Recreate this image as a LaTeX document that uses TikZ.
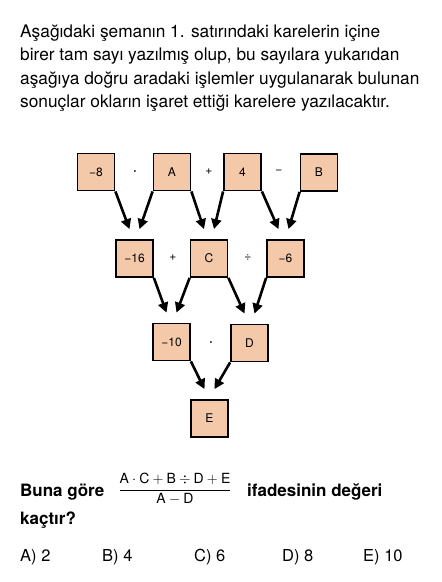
\documentclass[tikz,border=0pt]{standalone}
\usepackage{amsmath}
\usepackage{fontspec}
\setmainfont{TeX Gyre Heros}
\usepackage{tikz}
\usetikzlibrary{arrows.meta}
\definecolor{seftali}{HTML}{F4C9AA}
\tikzstyle{kare} = [rectangle, draw, line width=1.8pt, fill=seftali,
    minimum width=37pt, minimum height=37pt, inner sep=0pt,
    font=\fontsize{12}{14}\selectfont]
\tikzstyle{islem} = [inner sep=0pt, font=\fontsize{12}{14}\selectfont]
\tikzstyle{ok} = [line width=2.6pt, -{Triangle[length=10pt,width=10pt]}]
\tikzstyle{metin} = [anchor=base west, inner sep=0pt,
    font=\fontsize{17.3}{23.5}\selectfont]

\begin{document}
\begin{tikzpicture}[x=1pt,y=1pt]
  \useasboundingbox (0,0) rectangle (442,-582);
  % soru metni
  \node [metin, anchor=north west, align=left] (soru) at (20,-24.5)
    {Aşağıdaki şemanın 1. satırındaki karelerin içine\\
     birer tam sayı yazılmış olup, bu sayılara yukarıdan\\
     aşağıya doğru aradaki işlemler uygulanarak bulunan\\
     sonuçlar okların işaret ettiği karelere yazılacaktır.};

  % 1. satir
  \node [kare] (m8) at (96,-172) {−8};
  \node [kare] (a) at (172,-172) {A};
  \node [kare] (dort) at (242.5,-172) {4};
  \node [kare] (b) at (319,-172.5) {B};
  \node [islem] (op1) at (135,-172) {$\boldsymbol{\cdot}$};
  \node [islem] (op2) at (209,-172) {+};
  \node [islem] (op3) at (279,-172) {−};

  % 2. satir
  \node [kare] (m16) at (134.5,-258.5) {−16};
  \node [kare] (c) at (209,-258.5) {C};
  \node [kare] (m6) at (285.5,-258.5) {−6};
  \node [islem] (op4) at (173,-258) {+};
  \node [islem] (op5) at (248,-258) {÷};

  % 3. satir
  \node [kare] (m10) at (171.5,-342) {−10};
  \node [kare] (d) at (249.5,-343) {D};
  \node [islem] (op6) at (211,-343) {$\boldsymbol{\cdot}$};

  % 4. satir
  \node [kare] (e) at (209.5,-418.5) {E};

  % oklar
  \draw [ok] (m8.south east) -- ([xshift=-5pt,yshift=10pt]m16.north);
  \draw [ok] (a.south west) -- ([xshift=5pt,yshift=10pt]m16.north);
  \draw [ok] (a.south east) -- ([xshift=-5pt,yshift=10pt]c.north);
  \draw [ok] (dort.south west) -- ([xshift=5pt,yshift=10pt]c.north);
  \draw [ok] (dort.south east) -- ([xshift=-7pt,yshift=10pt]m6.north);
  \draw [ok] (b.south west) -- ([xshift=3pt,yshift=10pt]m6.north);
  \draw [ok] (m16.south east) -- ([xshift=-5pt,yshift=10pt]m10.north);
  \draw [ok] (c.south west) -- ([xshift=5pt,yshift=10pt]m10.north);
  \draw [ok] (c.south east) -- ([xshift=-5pt,yshift=10pt]d.north);
  \draw [ok] (m6.south west) -- ([xshift=5pt,yshift=10pt]d.north);
  \draw [ok] (m10.south east) -- ([xshift=-5pt,yshift=10pt]e.north);
  \draw [ok] (d.south west) -- ([xshift=5pt,yshift=10pt]e.north);

  % soru koku
  \node [metin, font=\fontsize{17}{20}\bfseries] (buna) at (20,-496) {Buna göre};
  \node [inner sep=0pt, font=\fontsize{14}{16}\selectfont] (kesir) at (175,-489)
    {$\dfrac{\text{A}\cdot\text{C}+\text{B}\div\text{D}+\text{E}}{\text{A}-\text{D}}$};
  \node [metin, font=\fontsize{17}{20}\bfseries] (ifade) at (247,-496) {ifadesinin değeri};
  \node [metin, font=\fontsize{17}{20}\bfseries] (kactir) at (20,-524) {kaçtır?};

  % secenekler
  \node [metin, font=\fontsize{16.5}{20}\selectfont] (sa) at (20,-561.5) {A) 2};
  \node [metin, font=\fontsize{16.5}{20}\selectfont] (sb) at (102,-561.5) {B) 4};
  \node [metin, font=\fontsize{16.5}{20}\selectfont] (sc) at (194,-561.5) {C) 6};
  \node [metin, font=\fontsize{16.5}{20}\selectfont] (sd) at (282,-561.5) {D) 8};
  \node [metin, font=\fontsize{16.5}{20}\selectfont] (se) at (363,-561.5) {E) 10};
\end{tikzpicture}
\end{document}
